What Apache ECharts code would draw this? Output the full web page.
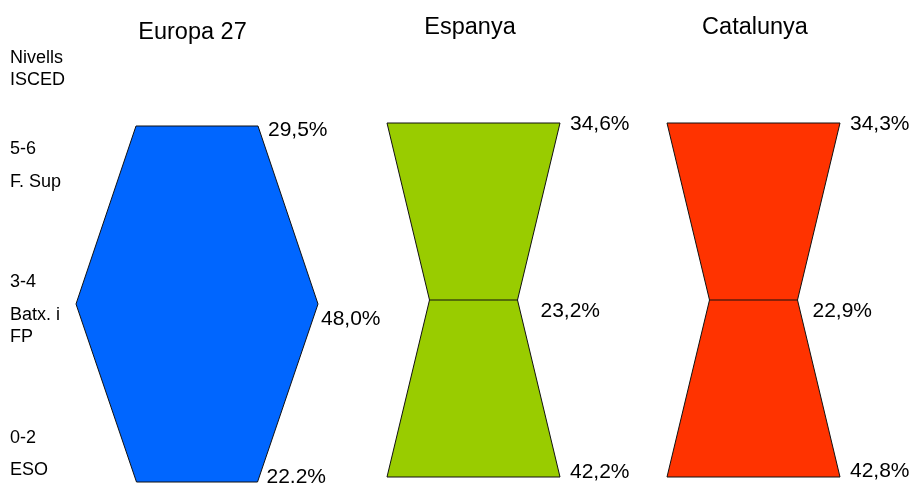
<!DOCTYPE html>
<html>
<head>
<meta charset="utf-8">
<script src="https://cdn.jsdelivr.net/npm/echarts@6/dist/echarts.min.js"></script>
<style>
html,body{margin:0;padding:0;background:#fff;}
#main{width:913px;height:483px;}
</style>
</head>
<body>
<div id="main"></div>
<script>
// ---- DATA ----
const countries = ['Europa 27', 'Espanya', 'Catalunya'];
const levels = [0, 1, 2];                       // 0 = ISCED 5-6, 1 = ISCED 3-4, 2 = ISCED 0-2
const levelCodes = ['5-6', '3-4', '0-2'];
const levelNames = [['F. Sup'], ['Batx. i', 'FP'], ['ESO']];
const axisTitle = ['Nivells', 'ISCED'];
// shares of population (%) shown in the labels
const europaValues = [29.5, 48.0, 22.2];
const espanyaValues = [34.6, 23.2, 42.2];
const catalunyaValues = [34.3, 22.9, 42.8];
// drawn shape widths (in % units)
const europaWidths = [24.4, 48.4, 24.2];
const espanyaWidths = [34.6, 17.6, 34.6];
const catalunyaWidths = [34.6, 17.6, 34.6];

// ---- STYLE / LAYOUT ----
const FONT = 'Arial, "Liberation Sans", Helvetica, sans-serif';
const colors = ['#0066FF', '#99CC00', '#FF3300'];
const dividers = [false, true, true];
const gridCenters = [197, 473.5, 753.5];
const gridTops = [126, 123, 123];
const gridHeights = [356, 354, 354];
const halfRange = 27;        // axis units either side of the centre
const gridWidth = 270;       // 5 px per unit
const labelOffsets = [
  [[10, 4], [3, 15], [9, -5]],
  [[10, 1], [23, 11.5], [10, -5]],
  [[10, 1], [15, 11.5], [10, -6]]
];
const titlePos = [[192.5, 33], [470, 27.5], [755, 27.5]];

const valueSets = [europaValues, espanyaValues, catalunyaValues];
const widthSets = [europaWidths, espanyaWidths, catalunyaWidths];

const chart = echarts.init(document.getElementById('main'), null, {renderer: 'canvas'});

const grids = [], xAxes = [], yAxes = [], series = [];
countries.forEach(function (name, k) {
  grids.push({left: gridCenters[k] - gridWidth / 2, width: gridWidth, top: gridTops[k], height: gridHeights[k], containLabel: false});
  xAxes.push({type: 'value', gridIndex: k, min: -halfRange, max: halfRange, show: false});
  yAxes.push({type: 'value', gridIndex: k, min: 0, max: 2, inverse: true, show: false});
  const widths = widthSets[k];
  const vals = valueSets[k];
  series.push({
    type: 'custom',
    name: name,
    xAxisIndex: k,
    yAxisIndex: k,
    clip: false,
    silent: true,
    data: levels.map(function (l, i) { return [l, widths[i], vals[i]]; }),
    renderItem: function (params, api) {
      const i = params.dataIndex;
      const children = [];
      if (i === 0) {
        const right = levels.map(function (l, j) { return api.coord([widths[j] / 2, l]); });
        const left = levels.map(function (l, j) { return api.coord([-widths[j] / 2, l]); }).reverse();
        children.push({
          type: 'polygon',
          shape: {points: right.concat(left)},
          style: {fill: colors[k], stroke: '#111', lineWidth: 1}
        });
        if (dividers[k]) {
          for (let j = 1; j < levels.length - 1; j++) {
            const a = api.coord([-widths[j] / 2, levels[j]]);
            const b = api.coord([widths[j] / 2, levels[j]]);
            children.push({type: 'line', shape: {x1: a[0], y1: a[1], x2: b[0], y2: b[1]},
              style: {stroke: '#111', lineWidth: 1}});
          }
        }
      }
      const p = api.coord([api.value(1) / 2, api.value(0)]);
      const off = labelOffsets[k][i];
      children.push({
        type: 'text',
        x: p[0] + off[0],
        y: p[1] + off[1],
        z2: 10,
        style: {
          text: api.value(2).toFixed(1).replace('.', ',') + '%',
          fill: '#000',
          fontSize: 21,
          fontFamily: FONT,
          align: 'left',
          verticalAlign: 'middle'
        }
      });
      return {type: 'group', children: children};
    }
  });
});

const graphics = [];
countries.forEach(function (name, k) {
  graphics.push({type: 'text', x: titlePos[k][0], y: titlePos[k][1],
    style: {text: name, fill: '#000', fontSize: 23.5, fontFamily: FONT, align: 'center', verticalAlign: 'middle'}});
});
const leftX = 10;
const axisTitleY = [58, 80];
axisTitle.forEach(function (t, j) {
  graphics.push({type: 'text', x: leftX, y: axisTitleY[j],
    style: {text: t, fill: '#000', fontSize: 18, fontFamily: FONT, align: 'left', verticalAlign: 'middle'}});
});
const codeY = [149, 282.5, 438.5];
const nameY = [[182.5], [315, 337.5], [470.5]];
levelCodes.forEach(function (c, i) {
  graphics.push({type: 'text', x: leftX, y: codeY[i],
    style: {text: c, fill: '#000', fontSize: 18, fontFamily: FONT, align: 'left', verticalAlign: 'middle'}});
  levelNames[i].forEach(function (t, j) {
    graphics.push({type: 'text', x: leftX, y: nameY[i][j],
      style: {text: t, fill: '#000', fontSize: 18, fontFamily: FONT, align: 'left', verticalAlign: 'middle'}});
  });
});

chart.setOption({
  backgroundColor: '#ffffff',
  animation: false,
  grid: grids,
  xAxis: xAxes,
  yAxis: yAxes,
  series: series,
  graphic: graphics
});
</script>
</body>
</html>
